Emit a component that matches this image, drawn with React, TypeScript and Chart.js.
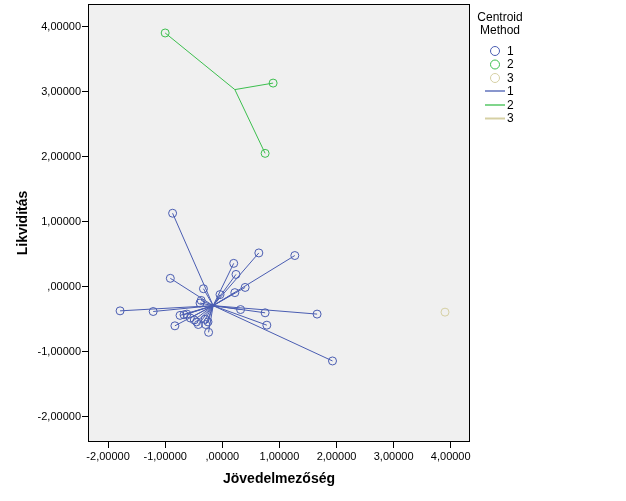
import React, { useEffect, useRef } from "react";
import { Chart, registerables } from "chart.js";

Chart.register(...registerables);

// Cluster 1 members (Jövedelmezőség, Likviditás)
const cluster1X = [-0.87, -1.79, -1.21, -0.91, -0.33, 0.20, 0.24, 0.64, 1.27, 0.40, 0.22, -0.04, -0.37, -0.39, 0.32, 0.75, 0.78, 1.66, 1.93, -0.83, -0.24, -0.74, -0.67, -0.62, -0.56, -0.49, -0.45, -0.42, -0.30, -0.29, -0.25];
const cluster1Y = [1.13, -0.37, -0.38, 0.13, -0.03, 0.36, 0.19, 0.52, 0.48, -0.01, -0.09, -0.12, -0.21, -0.25, -0.35, -0.40, -0.59, -0.42, -1.14, -0.60, -0.70, -0.44, -0.43, -0.42, -0.48, -0.51, -0.54, -0.58, -0.50, -0.58, -0.54];
const centroid1 = { x: -0.16, y: -0.29 };

// Cluster 2 members
const cluster2X = [-1.0, 0.89, 0.75];
const cluster2Y = [3.9, 3.13, 2.05];
const centroid2 = { x: 0.22, y: 3.03 };

// Cluster 3 member
const cluster3X = [3.9];
const cluster3Y = [-0.39];

const xTicks = [-2, -1, 0, 1, 2, 3, 4];
const xTickLabels = ["-2,00000", "-1,00000", ",00000", "1,00000", "2,00000", "3,00000", "4,00000"];
const yTicks = [-2, -1, 0, 1, 2, 3, 4];
const yTickLabels = ["-2,00000", "-1,00000", ",00000", "1,00000", "2,00000", "3,00000", "4,00000"];

const legendTitle = ["Centroid", "Method"];
const legendLabels = ["1", "2", "3"];

const COLORS = ["#4a5db2", "#3cbf4e", "#d6d0a4"];
const FONT = "'Liberation Sans', Arial, sans-serif";

export default function App() {
  const ref = useRef<HTMLCanvasElement | null>(null);

  useEffect(() => {
    document.body.style.margin = "0";
    const canvas = ref.current;
    if (!canvas) return;

    const toPts = (xs: number[], ys: number[]) => xs.map((x, i) => ({ x, y: ys[i] }));
    const pts1 = toPts(cluster1X, cluster1Y);
    const pts2 = toPts(cluster2X, cluster2Y);
    const pts3 = toPts(cluster3X, cluster3Y);

    const segs: any[] = [];
    pts1.forEach((p) =>
      segs.push({
        type: "line",
        data: [centroid1, p],
        borderColor: COLORS[0],
        borderWidth: 1,
        pointRadius: 0,
        fill: false,
      })
    );
    pts2.forEach((p) =>
      segs.push({
        type: "line",
        data: [centroid2, p],
        borderColor: COLORS[1],
        borderWidth: 1,
        pointRadius: 0,
        fill: false,
      })
    );

    const pointSet = (pts: any[], c: string) => ({
      type: "scatter",
      data: pts,
      borderColor: c,
      backgroundColor: "rgba(0,0,0,0)",
      pointRadius: 4,
      pointBorderWidth: 1,
      showLine: false,
    });

    const bgPlugin = {
      id: "bg",
      beforeDraw(chart: any) {
        const { ctx, chartArea: a } = chart;
        ctx.save();
        ctx.fillStyle = "#f0f0f0";
        ctx.fillRect(a.left, a.top, a.right - a.left, a.bottom - a.top);
        ctx.restore();
      },
      afterDraw(chart: any) {
        const { ctx, chartArea: a } = chart;
        ctx.save();
        ctx.strokeStyle = "#000";
        ctx.lineWidth = 1;
        ctx.strokeRect(Math.round(a.left) - 0.5, Math.round(a.top) - 0.5, a.right - a.left + 1, a.bottom - a.top + 1);

        // legend
        ctx.fillStyle = "#000";
        ctx.font = `12px ${FONT}`;
        ctx.textAlign = "center";
        ctx.textBaseline = "middle";
        ctx.fillText(legendTitle[0], 500, 18);
        ctx.fillText(legendTitle[1], 500, 31);
        ctx.textAlign = "left";
        const circY = [51, 64.5, 78];
        legendLabels.forEach((l, i) => {
          ctx.beginPath();
          ctx.strokeStyle = COLORS[i];
          ctx.arc(495, circY[i], 4.5, 0, Math.PI * 2);
          ctx.stroke();
          ctx.fillStyle = "#000";
          ctx.fillText(l, 507, circY[i] + 0.5);
        });
        const lineY = [91, 105, 118.5];
        legendLabels.forEach((l, i) => {
          ctx.beginPath();
          ctx.strokeStyle = COLORS[i];
          ctx.lineWidth = i === 2 ? 2 : 1.3;
          ctx.moveTo(485, lineY[i]);
          ctx.lineTo(505, lineY[i]);
          ctx.stroke();
          ctx.fillStyle = "#000";
          ctx.fillText(l, 507, lineY[i] + 0.5);
        });
        ctx.restore();
      },
    };

    const chart = new Chart(canvas, {
      type: "scatter",
      data: {
        datasets: [
          ...segs,
          pointSet(pts1, COLORS[0]),
          pointSet(pts2, COLORS[1]),
          pointSet(pts3, COLORS[2]),
        ],
      },
      options: {
        animation: false,
        responsive: true,
        maintainAspectRatio: false,
        layout: { padding: { top: 4, right: 157, left: 0, bottom: 0 } },
        plugins: { legend: { display: false }, tooltip: { enabled: false } },
        scales: {
          x: {
            type: "linear",
            min: -2.334,
            max: 4.32,
            afterBuildTicks: (s: any) => {
              s.ticks = xTicks.map((v) => ({ value: v }));
            },
            afterFit: (s: any) => {
              s.height = 60;
              s.paddingLeft = 0;
              s.paddingRight = 0;
            },
            ticks: {
              autoSkip: false,
              maxRotation: 0,
              color: "#000",
              font: { family: FONT, size: 11 },
              padding: 2,
              callback: (v: any) => xTickLabels[xTicks.indexOf(v)],
            },
            grid: { drawOnChartArea: false, drawTicks: true, tickLength: 7, color: "#000" },
            border: { display: false },
            title: {
              display: true,
              text: "Jövedelmezőség",
              color: "#000",
              font: { family: FONT, size: 14, weight: "bold" },
              padding: { top: 0, bottom: 13 },
            },
          },
          y: {
            type: "linear",
            min: -2.37,
            max: 4.33,
            afterBuildTicks: (s: any) => {
              s.ticks = yTicks.map((v) => ({ value: v }));
            },
            afterFit: (s: any) => {
              s.width = 89;
              s.paddingTop = 0;
              s.paddingBottom = 0;
            },
            ticks: {
              autoSkip: false,
              color: "#000",
              font: { family: FONT, size: 11 },
              padding: 1,
              callback: (v: any) => yTickLabels[yTicks.indexOf(v)],
            },
            grid: { drawOnChartArea: false, drawTicks: true, tickLength: 7, color: "#000" },
            border: { display: false },
            title: {
              display: true,
              text: "Likviditás",
              color: "#000",
              font: { family: FONT, size: 14, weight: "bold" },
              padding: { top: 15, bottom: 0 },
            },
          },
        },
      },
      plugins: [bgPlugin],
    } as any);

    return () => chart.destroy();
  }, []);

  return (
    <div style={{ width: 626, height: 501, position: "relative" }}>
      <canvas ref={ref} />
    </div>
  );
}
